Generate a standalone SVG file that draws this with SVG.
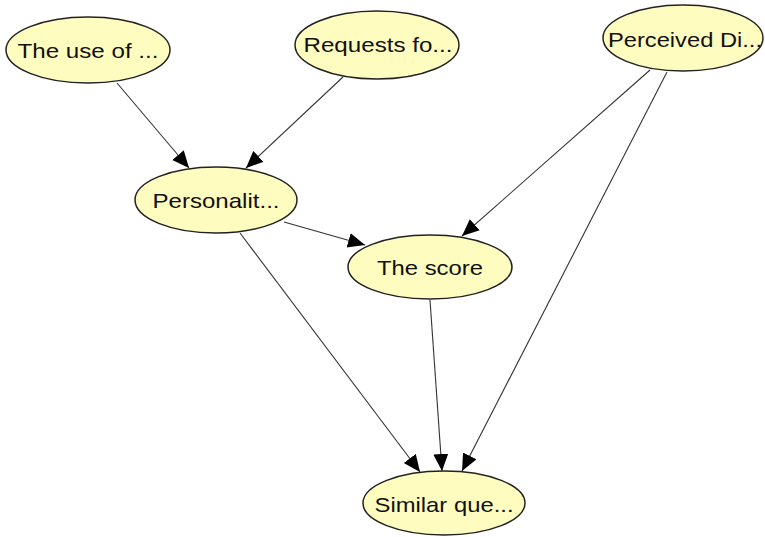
<svg xmlns="http://www.w3.org/2000/svg" width="765" height="537" viewBox="0 0 765 537">
<style>
.node ellipse{fill:#fefcbf;stroke:#222;stroke-width:1.5}
.node text{font-family:"Liberation Sans",Arial,sans-serif;font-size:21px;fill:#111;text-anchor:middle;dominant-baseline:central}
.edges line{stroke:#333;stroke-width:1.1;marker-end:url(#arr)}
</style>
<defs>
<marker id="arr" markerUnits="userSpaceOnUse" markerWidth="18" markerHeight="16" refX="17" refY="7.5" orient="auto" viewBox="0 0 18 16">
<path d="M0,0 L17,7.5 L0,15 Z" fill="#000"/>
</marker>
</defs>
<rect width="765" height="537" fill="#fff"/>
<g class="edges">
<line x1="117" y1="83" x2="189" y2="168"/>
<line x1="343" y1="77" x2="246" y2="168"/>
<line x1="650" y1="70" x2="462" y2="236"/>
<line x1="667" y1="72" x2="462" y2="471"/>
<line x1="284" y1="222" x2="365" y2="245"/>
<line x1="240" y1="233" x2="420" y2="472"/>
<line x1="430" y1="300" x2="442" y2="471"/>
</g>
<g id="n1" class="node"><ellipse cx="88" cy="50" rx="82" ry="33"/><text x="88" y="50" textLength="141" lengthAdjust="spacingAndGlyphs">The use of ...</text></g>
<g id="n2" class="node"><ellipse cx="377" cy="45" rx="82" ry="34"/><text x="378" y="44" textLength="149" lengthAdjust="spacingAndGlyphs">Requests fo...</text></g>
<g id="n3" class="node"><ellipse cx="683" cy="38" rx="80" ry="33"/><text x="685" y="39" textLength="154" lengthAdjust="spacingAndGlyphs">Perceived Di...</text></g>
<g id="n4" class="node"><ellipse cx="216" cy="200" rx="81" ry="33"/><text x="216" y="200" textLength="127" lengthAdjust="spacingAndGlyphs">Personalit...</text></g>
<g id="n5" class="node"><ellipse cx="430" cy="267" rx="82" ry="32"/><text x="430" y="267" textLength="106" lengthAdjust="spacingAndGlyphs">The score</text></g>
<g id="n6" class="node"><ellipse cx="444" cy="503" rx="81" ry="32"/><text x="444" y="504" textLength="139" lengthAdjust="spacingAndGlyphs">Similar que...</text></g>
</svg>
